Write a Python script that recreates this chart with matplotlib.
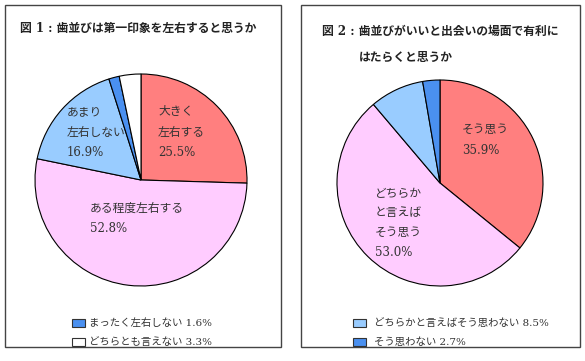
import matplotlib
matplotlib.use("Agg")
import matplotlib.pyplot as plt
from matplotlib.patches import Rectangle

# ---- data ----
fig1_title = "図 1 : 歯並びは第一印象を左右すると思うか"
fig1_labels = ["大きく\n左右する", "ある程度左右する", "あまり\n左右しない", "まったく左右しない", "どちらとも言えない"]
fig1_values = [25.5, 52.8, 16.9, 1.6, 3.3]
fig1_colors = ["#FF7F7F", "#FFCCFF", "#99CCFF", "#4A90F0", "#FFFFFF"]

fig2_title_l1 = "図 2 : 歯並びがいいと出会いの場面で有利に"
fig2_title_l2 = "はたらくと思うか"
fig2_labels = ["そう思う", "どちらか\nと言えば\nそう思う", "どちらかと言えばそう思わない", "そう思わない"]
fig2_values = [35.9, 53.0, 8.5, 2.7]
fig2_colors = ["#FF7F7F", "#FFCCFF", "#99CCFF", "#4A90F0"]

W, H = 585, 361
FONT = ["DejaVu Serif", "Noto Sans CJK JP"]
TXT = "#333333"

fig = plt.figure(figsize=(W / 100, H / 100), dpi=100)
fig.patch.set_facecolor("white")


def fx(px):
    return px / W


def fy(py):
    return 1 - py / H


# panel borders
for x0, x1 in [(5, 281), (301, 580)]:
    fig.patches.append(Rectangle((fx(x0), fy(347)), fx(x1) - fx(x0), fy(5) - fy(347),
                                 transform=fig.transFigure, fill=False,
                                 edgecolor="#444444", linewidth=1.0))


def make_pie(cx, cy, r, values, colors):
    ax = fig.add_axes([fx(cx - r), fy(cy + r), 2 * r / W, 2 * r / H])
    ax.pie(values, colors=colors, startangle=90, counterclock=False, radius=1,
           wedgeprops=dict(edgecolor="black", linewidth=0.8))
    ax.set_xlim(-1, 1)
    ax.set_ylim(-1, 1)
    ax.axis("off")
    return ax


make_pie(141, 180, 106, fig1_values, fig1_colors)
make_pie(440, 183, 103, fig2_values, fig2_colors)

# titles
fig.text(fx(20), fy(28), fig1_title, family=FONT, fontsize=8.5, fontweight="bold",
         color="#222222", va="center", ha="left")
fig.text(fx(322), fy(31), fig2_title_l1, family=FONT, fontsize=8.5, fontweight="bold",
         color="#222222", va="center", ha="left")
fig.text(fx(359), fy(57), fig2_title_l2, family=FONT, fontsize=8.5, fontweight="bold",
         color="#222222", va="center", ha="left")


def slice_label(x, ytop, label, value, step=20):
    lines = label.split("\n") + [f"{value}%"]
    for i, ln in enumerate(lines):
        fig.text(fx(x), fy(ytop + i * step), ln, family=FONT, fontsize=8.5,
                 color=TXT, va="center", ha="left")


# in-pie labels (figure 1)
slice_label(158, 112, fig1_labels[0], fig1_values[0])
slice_label(90, 208, fig1_labels[1], fig1_values[1])
slice_label(67, 112, fig1_labels[2], fig1_values[2])
# in-pie labels (figure 2)
slice_label(462, 129, fig2_labels[0], fig2_values[0], step=21)
slice_label(375, 193, fig2_labels[1], fig2_values[1], step=19.7)


def legend_row(bx, ty, y, label, value, color):
    fig.patches.append(Rectangle((fx(bx), fy(y + 4)), 13 / W, 8 / H,
                                 transform=fig.transFigure, facecolor=color,
                                 edgecolor="#333333", linewidth=0.8))
    fig.text(fx(ty), fy(y), f"{label} {value}%", family=FONT, fontsize=7.5,
             color=TXT, va="center", ha="left")


legend_row(72, 89, 323, fig1_labels[3], fig1_values[3], fig1_colors[3])
legend_row(72, 89, 342, fig1_labels[4], fig1_values[4], fig1_colors[4])
legend_row(353, 374, 323, fig2_labels[2], fig2_values[2], fig2_colors[2])
legend_row(353, 374, 342, fig2_labels[3], fig2_values[3], fig2_colors[3])

fig.savefig("out.png", dpi=100, facecolor="white")
